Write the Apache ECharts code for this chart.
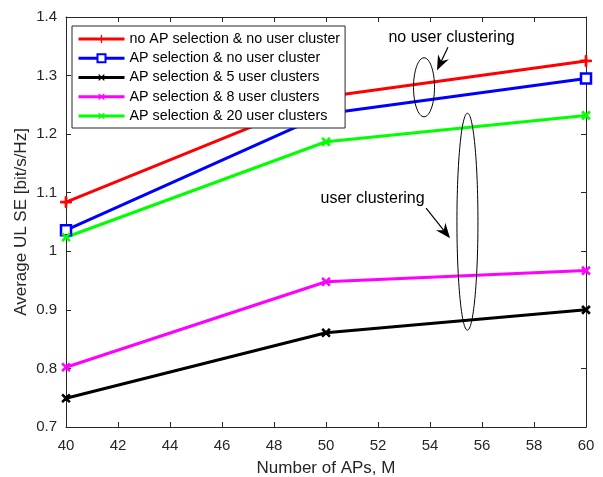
<!DOCTYPE html>
<html><head><meta charset="utf-8">
<script src="https://cdn.jsdelivr.net/npm/echarts@6/dist/echarts.min.js"></script>
<style>html,body{margin:0;padding:0;background:#fff}#c{width:603px;height:477px}</style>
</head><body><div id="c"></div>
<script>
const xValues = [40, 50, 60];
const seriesNames = [
  'no AP selection & no user cluster',
  'AP selection & no user cluster',
  'AP selection & 5 user clusters',
  'AP selection & 8 user clusters',
  'AP selection & 20 user clusters'
];
const noApNoCluster = [1.084, 1.264, 1.325];
const apNoCluster = [1.036, 1.235, 1.295];
const ap5Clusters = [0.749, 0.861, 0.900];
const ap8Clusters = [0.802, 0.948, 0.967];
const ap20Clusters = [1.024, 1.187, 1.232];
const xTicks = [40, 42, 44, 46, 48, 50, 52, 54, 56, 58, 60];
const yTicks = [0.7, 0.8, 0.9, 1.0, 1.1, 1.2, 1.3, 1.4];

const PLUS = 'path://M-0.16,-1 L0.16,-1 L0.16,-0.16 L1,-0.16 L1,0.16 L0.16,0.16 L0.16,1 L-0.16,1 L-0.16,0.16 L-1,0.16 L-1,-0.16 L-0.16,-0.16 Z';
const axisColor = '#262626';
const font = 'Arial, "Liberation Sans", Helvetica, sans-serif';

function mk(name, data, color, symbol, size, rotate, extra) {
  return Object.assign({
    name, type: 'line', data: xValues.map((x, i) => [x, data[i]]),
    symbol, symbolSize: size, symbolRotate: rotate,
    lineStyle: { color, width: 3 },
    itemStyle: { color, borderColor: color },
    emphasis: { disabled: true }, z: 3
  }, extra || {});
}

const chart = echarts.init(document.getElementById('c'), null, { renderer: 'canvas' });
const axisCommon = {
  type: 'value', axisLine: { show: true, lineStyle: { color: axisColor, width: 1 } },
  axisTick: { show: true, inside: true, length: 5, lineStyle: { color: axisColor } },
  splitLine: { show: false }
};
chart.setOption({
  animation: false,
  backgroundColor: '#fff',
  grid: { left: 66, right: 17, top: 17, bottom: 50, containLabel: false, outerBoundsMode: 'none' },
  xAxis: [
    Object.assign({}, axisCommon, {
      min: xTicks[0], max: xTicks[xTicks.length - 1], interval: 2,
      name: 'Number of APs, M', nameLocation: 'middle', nameGap: 33, nameMoveOverlap: false,
      nameTextStyle: { fontFamily: font, fontSize: 17, color: axisColor },
      axisLabel: { fontFamily: font, fontSize: 15, color: axisColor, margin: 11 }
    }),
    Object.assign({}, axisCommon, {
      position: 'top', min: xTicks[0], max: xTicks[xTicks.length - 1], interval: 2,
      axisLabel: { show: false }
    })
  ],
  yAxis: [
    Object.assign({}, axisCommon, {
      min: yTicks[0], max: yTicks[yTicks.length - 1], interval: 0.1,
      name: 'Average UL SE [bit/s/Hz]', nameLocation: 'middle', nameGap: 36, nameMoveOverlap: false,
      nameTextStyle: { fontFamily: font, fontSize: 17, color: axisColor },
      axisLabel: { fontFamily: font, fontSize: 15, color: axisColor, margin: 9,
        formatter: v => (Math.abs(v - 1) < 1e-9 ? '1' : v.toFixed(1)) }
    }),
    Object.assign({}, axisCommon, {
      position: 'right', min: yTicks[0], max: yTicks[yTicks.length - 1], interval: 0.1,
      axisLabel: { show: false }
    })
  ],
  legend: {
    orient: 'vertical', left: 72, top: 26,
    padding: [6, 5, 5, 5],
    backgroundColor: '#fff', borderColor: axisColor, borderWidth: 1,
    itemWidth: 46, itemHeight: 10, itemGap: 5.25,
    lineStyle: { width: 3 },
    textStyle: { fontFamily: font, fontSize: 14.3, lineHeight: 14, color: '#000' },
    data: seriesNames, z: 10
  },
  series: [
    mk(seriesNames[0], noApNoCluster, '#ff0000', PLUS, 11, 0),
    mk(seriesNames[1], apNoCluster, '#0000ff', 'rect', 10, 0,
      { itemStyle: { color: '#fff', borderColor: '#0000ff', borderWidth: 2.5 } }),
    mk(seriesNames[2], ap5Clusters, '#000000', PLUS, 10, 45),
    mk(seriesNames[3], ap8Clusters, '#ff00ff', PLUS, 10, 45),
    mk(seriesNames[4], ap20Clusters, '#00ff00', PLUS, 10, 45)
  ]
});

function px(x, y) { return chart.convertToPixel({ gridIndex: 0 }, [x, y]); }
function arrow(from, to) {
  const a = px(from[0], from[1]), b = px(to[0], to[1]);
  const dx = b[0] - a[0], dy = b[1] - a[1], L = Math.hypot(dx, dy);
  const ux = dx / L, uy = dy / L, hl = 15, hw = 6;
  const bx = b[0] - ux * hl, by = b[1] - uy * hl;
  return [
    { type: 'line', shape: { x1: a[0], y1: a[1], x2: bx + ux * 5, y2: by + uy * 5 }, style: { stroke: '#000', lineWidth: 1.2 }, z: 5 },
    { type: 'polygon', shape: { points: [[b[0], b[1]], [bx - uy * hw, by + ux * hw], [bx + ux * 5, by + uy * 5], [bx + uy * hw, by - ux * hw]] },
      style: { fill: '#000' }, z: 5 }
  ];
}
function ellipse(cx, cy, rx, ry) {
  const c = px(cx, cy);
  return { type: 'ellipse', shape: { cx: c[0], cy: c[1], rx, ry }, style: { fill: null, stroke: '#000', lineWidth: 1 }, z: 5 };
}
function label(x, y, text) {
  const p = px(x, y);
  return { type: 'text', x: p[0], y: p[1], style: { text, fontFamily: font, fontSize: 16, fill: '#000', align: 'center', verticalAlign: 'middle' }, z: 5 };
}
chart.setOption({
  graphic: [
    ellipse(53.77, 1.280, 10.5, 29.5),
    ellipse(55.44, 1.0505, 10.5, 108.5),
    label(54.83, 1.3654, 'no user clustering'),
    label(51.79, 1.0906, 'user clustering')
  ].concat(arrow([54.69, 1.3483], [54.27, 1.309]), arrow([53.85, 1.0736], [54.77, 1.0224]))
});
</script></body></html>
